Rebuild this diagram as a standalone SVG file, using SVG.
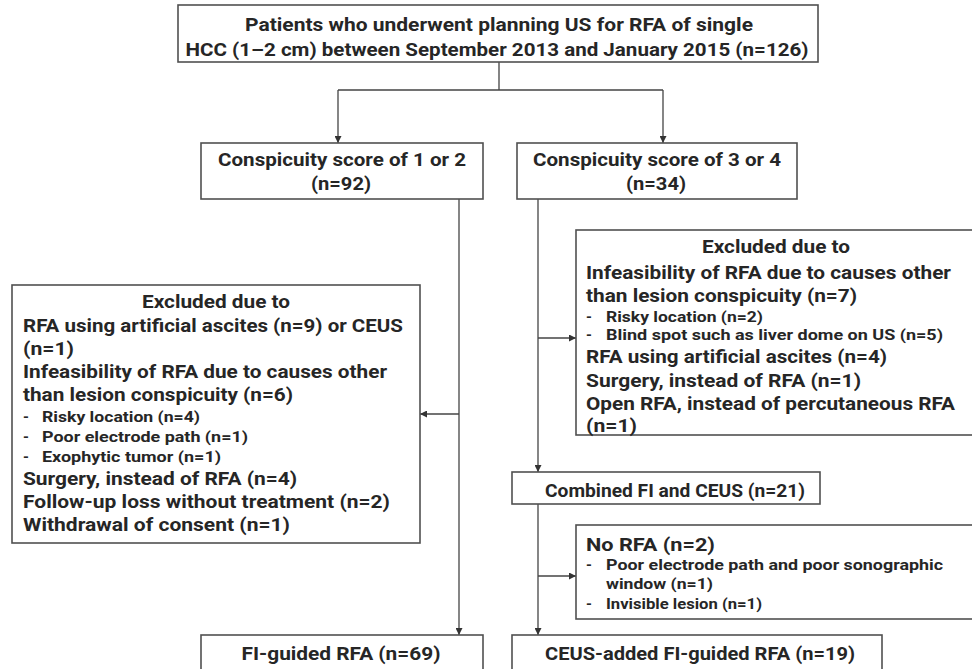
<svg xmlns="http://www.w3.org/2000/svg" width="972" height="669" viewBox="0 0 972 669">
<defs>
<style>
.box{fill:#fff;stroke:#505050;stroke-width:1.6}
.t{font-family:Roboto,"Noto Sans","Liberation Sans",sans-serif;font-weight:700;fill:#262626;font-size:19px}
.s{font-family:Roboto,"Noto Sans","Liberation Sans",sans-serif;font-weight:700;fill:#262626;font-size:15px}
.c{text-anchor:middle}
.ln{fill:none;stroke:#444;stroke-width:1.3}
</style>
<marker id="ah" viewBox="0 0 10 10" refX="10" refY="5" markerWidth="7" markerHeight="7" markerUnits="userSpaceOnUse" orient="auto">
<path d="M0,0 L10,5 L0,10 z" fill="#333"/>
</marker>
</defs>
<rect width="972" height="669" fill="#fff"/>
<g id="connectors">
<path class="ln" d="M499,62 V90 M338,90 H663"/>
<path class="ln" d="M338,90 V143" marker-end="url(#ah)"/>
<path class="ln" d="M663,90 V143" marker-end="url(#ah)"/>
<path class="ln" d="M459,199 V635" marker-end="url(#ah)"/>
<path class="ln" d="M459,414 H420" marker-end="url(#ah)"/>
<path class="ln" d="M538,199 V472" marker-end="url(#ah)"/>
<path class="ln" d="M538,338 H576" marker-end="url(#ah)"/>
<path class="ln" d="M538,504 V635" marker-end="url(#ah)"/>
<path class="ln" d="M538,576 H576" marker-end="url(#ah)"/>
</g>
<g id="n-top">
<rect class="box" x="178" y="5" width="640" height="57"/>
<text class="t c" x="499" y="31" textLength="508" lengthAdjust="spacingAndGlyphs">Patients who underwent planning US for RFA of single</text>
<text class="t c" x="497" y="56" textLength="623" lengthAdjust="spacingAndGlyphs">HCC (1–2 cm) between September 2013 and January 2015 (n=126)</text>
</g>
<g id="n-cs12">
<rect class="box" x="201" y="143" width="282" height="56"/>
<text class="t c" x="342" y="166" textLength="248" lengthAdjust="spacingAndGlyphs">Conspicuity score of 1 or 2</text>
<text class="t c" x="341" y="190" textLength="60" lengthAdjust="spacingAndGlyphs">(n=92)</text>
</g>
<g id="n-cs34">
<rect class="box" x="517" y="143" width="280" height="56"/>
<text class="t c" x="657" y="166" textLength="248" lengthAdjust="spacingAndGlyphs">Conspicuity score of 3 or 4</text>
<text class="t c" x="656" y="190" textLength="60" lengthAdjust="spacingAndGlyphs">(n=34)</text>
</g>
<g id="n-excl-left">
<rect class="box" x="12" y="285" width="408" height="258"/>
<text class="t c" x="216" y="308" textLength="148" lengthAdjust="spacingAndGlyphs">Excluded due to</text>
<text class="t" x="23" y="332" textLength="380" lengthAdjust="spacingAndGlyphs">RFA using artificial ascites (n=9) or CEUS</text>
<text class="t" x="23" y="355" textLength="51" lengthAdjust="spacingAndGlyphs">(n=1)</text>
<text class="t" x="23" y="378" textLength="364" lengthAdjust="spacingAndGlyphs">Infeasibility of RFA due to causes other</text>
<text class="t" x="23" y="401" textLength="270" lengthAdjust="spacingAndGlyphs">than lesion conspicuity (n=6)</text>
<text class="s" x="23" y="422">-</text><text class="s" x="42" y="422" textLength="158" lengthAdjust="spacingAndGlyphs">Risky location (n=4)</text>
<text class="s" x="23" y="442">-</text><text class="s" x="42" y="442" textLength="206" lengthAdjust="spacingAndGlyphs">Poor electrode path (n=1)</text>
<text class="s" x="23" y="462">-</text><text class="s" x="42" y="462" textLength="179" lengthAdjust="spacingAndGlyphs">Exophytic tumor (n=1)</text>
<text class="t" x="23" y="485" textLength="274" lengthAdjust="spacingAndGlyphs">Surgery, instead of RFA (n=4)</text>
<text class="t" x="23" y="508" textLength="367" lengthAdjust="spacingAndGlyphs">Follow-up loss without treatment (n=2)</text>
<text class="t" x="23" y="531" textLength="267" lengthAdjust="spacingAndGlyphs">Withdrawal of consent (n=1)</text>
</g>
<g id="n-excl-right">
<rect class="box" x="576" y="230" width="400" height="205"/>
<text class="t c" x="776" y="253" textLength="148" lengthAdjust="spacingAndGlyphs">Excluded due to</text>
<text class="t" x="586" y="279" textLength="365" lengthAdjust="spacingAndGlyphs">Infeasibility of RFA due to causes other</text>
<text class="t" x="586" y="302" textLength="271" lengthAdjust="spacingAndGlyphs">than lesion conspicuity (n=7)</text>
<text class="s" x="586" y="322">-</text><text class="s" x="606" y="322" textLength="157" lengthAdjust="spacingAndGlyphs">Risky location (n=2)</text>
<text class="s" x="586" y="340">-</text><text class="s" x="606" y="340" textLength="337" lengthAdjust="spacingAndGlyphs">Blind spot such as liver dome on US (n=5)</text>
<text class="t" x="586" y="363" textLength="301" lengthAdjust="spacingAndGlyphs">RFA using artificial ascites (n=4)</text>
<text class="t" x="586" y="387" textLength="275" lengthAdjust="spacingAndGlyphs">Surgery, instead of RFA (n=1)</text>
<text class="t" x="586" y="410" textLength="369" lengthAdjust="spacingAndGlyphs">Open RFA, instead of percutaneous RFA</text>
<text class="t" x="586" y="432" textLength="51" lengthAdjust="spacingAndGlyphs">(n=1)</text>
</g>
<g id="n-combined">
<rect class="box" x="512" y="472" width="308" height="32"/>
<text class="t" x="545" y="497" textLength="260" lengthAdjust="spacingAndGlyphs">Combined FI and CEUS (n=21)</text>
</g>
<g id="n-norfa">
<rect class="box" x="576" y="525" width="400" height="94"/>
<text class="t" x="586" y="551" textLength="129" lengthAdjust="spacingAndGlyphs">No RFA (n=2)</text>
<text class="s" x="586" y="570">-</text><text class="s" x="606" y="570" textLength="337" lengthAdjust="spacingAndGlyphs">Poor electrode path and poor sonographic</text>
<text class="s" x="606" y="589" textLength="107" lengthAdjust="spacingAndGlyphs">window (n=1)</text>
<text class="s" x="586" y="609">-</text><text class="s" x="606" y="609" textLength="156" lengthAdjust="spacingAndGlyphs">Invisible lesion (n=1)</text>
</g>
<g id="n-fi">
<rect class="box" x="201" y="635" width="282" height="45"/>
<text class="t c" x="341" y="660" textLength="199" lengthAdjust="spacingAndGlyphs">FI-guided RFA (n=69)</text>
</g>
<g id="n-ceus">
<rect class="box" x="512" y="635" width="370" height="45"/>
<text class="t c" x="700" y="660" textLength="310" lengthAdjust="spacingAndGlyphs">CEUS-added FI-guided RFA (n=19)</text>
</g>
</svg>
